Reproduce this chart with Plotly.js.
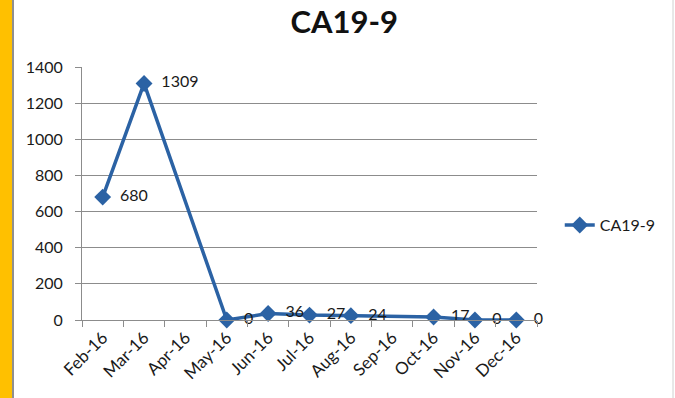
<!DOCTYPE html>
<html>
<head>
<meta charset="utf-8">
<script src="https://cdn.plot.ly/plotly-3.0.1.min.js"></script>
<style>
  html, body { margin: 0; padding: 0; background: #fff; }
  #chart { width: 675px; height: 398px; }
</style>
</head>
<body>
<div id="chart"></div>
<script>
const categories = ['Feb-16','Mar-16','Apr-16','May-16','Jun-16','Jul-16','Aug-16','Sep-16','Oct-16','Nov-16','Dec-16'];
const values = [680, 1309, null, 0, 36, 27, 24, null, 17, 0, 0];
const seriesName = 'CA19-9';
const yTicks = [0, 200, 400, 600, 800, 1000, 1200, 1400];

const blue = '#2B62A4';
const font = 'Lato, "Open Sans", sans-serif';

const trace = {
  type: 'scatter',
  mode: 'lines+markers+text',
  name: seriesName,
  x: categories,
  y: values,
  connectgaps: true,
  line: { color: blue, width: 3.5 },
  marker: { symbol: 'diamond', size: 13, color: blue },
  text: values.map(v => v === null ? '' : '  ' + v),
  textposition: 'middle right',
  textfont: { family: font, size: 16, color: '#1a1a1a' },
  cliponaxis: false
};

const layout = {
  width: 675,
  height: 398,
  margin: { l: 82, r: 138, t: 67, b: 78 },
  paper_bgcolor: '#ffffff',
  plot_bgcolor: '#ffffff',
  title: {
    text: '<b>CA19-9</b>',
    font: { family: font, size: 31, color: '#111' },
    x: 0.51, xanchor: 'center',
    y: 0.945, yanchor: 'middle'
  },
  showlegend: true,
  legend: {
    x: 1.05, xanchor: 'left',
    y: 0.375, yanchor: 'middle',
    font: { family: font, size: 16, color: '#1a1a1a' },
    bgcolor: 'rgba(0,0,0,0)'
  },
  xaxis: {
    type: 'category',
    categoryorder: 'array',
    categoryarray: categories,
    range: [-0.5, categories.length - 0.5],
    autorange: false,
    tickson: 'boundaries',
    ticks: 'outside',
    ticklen: 6,
    tickcolor: '#8c8c8c',
    showline: true,
    linecolor: '#8c8c8c',
    linewidth: 1,
    showgrid: false,
    zeroline: false,
    tickangle: -45,
    tickfont: { family: font, size: 17, color: '#1a1a1a' }
  },
  yaxis: {
    range: [0, 1400],
    autorange: false,
    tickmode: 'array',
    tickvals: yTicks,
    ticktext: yTicks.map(String),
    ticks: 'outside',
    ticklen: 6,
    tickcolor: '#8c8c8c',
    showline: true,
    linecolor: '#8c8c8c',
    linewidth: 1,
    showgrid: true,
    gridcolor: '#8c8c8c',
    gridwidth: 1,
    zeroline: false,
    ticklabelstandoff: 9,
    tickfont: { family: font, size: 16, color: '#1a1a1a' }
  },
  shapes: [
    { type: 'rect', xref: 'paper', yref: 'paper',
      x0: -82/455, x1: -70/455, y0: -78/253, y1: 331/253,
      fillcolor: '#FFC000', line: { width: 0 }, layer: 'above' },
    { type: 'line', xref: 'paper', yref: 'paper',
      x0: -69/455, x1: -69/455, y0: -78/253, y1: 331/253,
      line: { color: '#6a6a6a', width: 1.5 } },
    { type: 'line', xref: 'paper', yref: 'paper',
      x0: 591/455, x1: 591/455, y0: -78/253, y1: 331/253,
      line: { color: '#d0d0d0', width: 1 } }
  ]
};

Plotly.newPlot('chart', [trace], layout, { displayModeBar: false, staticPlot: true });
</script>
</body>
</html>
